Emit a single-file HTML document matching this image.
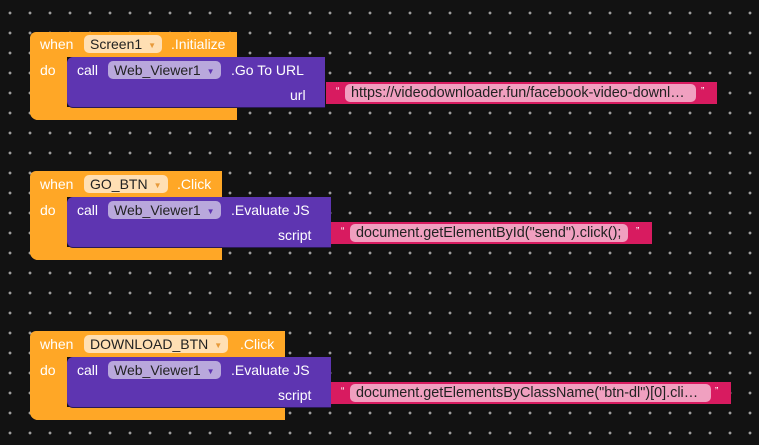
<!DOCTYPE html>
<html><head><style>
body{margin:0;width:759px;height:445px;background:#121212;position:relative;overflow:hidden;font-family:"Liberation Sans",Arial,sans-serif;font-size:14px;color:#fff}
.a{position:absolute;box-sizing:border-box}
.or{background:#ffa726;}
.pu{background:#5e35b1;}
.pk{background:#d81b60;}
.t{position:absolute;white-space:nowrap;line-height:16px}
.fo{position:absolute;background:#ffdfb3;color:#222;border-radius:5px;height:18px;line-height:18px;padding:0 6px;white-space:nowrap}
.fp{position:absolute;background:#b9a8dc;color:#222;border-radius:5px;height:18px;line-height:18px;padding:0 6px;white-space:nowrap}
.fs{position:absolute;background:#f0a0c0;color:#222;border-radius:5px;height:18px;line-height:18px;padding:0 6px;white-space:nowrap;box-sizing:border-box;font-size:14.4px;overflow:hidden}
.ar{font-size:8px;margin-left:6px;vertical-align:1px}
.fo .ar{color:#e79a3a}.fp .ar{color:#5e35b1}
</style></head><body>
<svg class="a" style="left:0;top:0" width="759" height="445"><defs><pattern id="g" x="0" y="3" width="20" height="20" patternUnits="userSpaceOnUse"><path d="M8.5 10h3M10 8.5v3" stroke="#ccc" stroke-width="1"/></pattern></defs><rect width="759" height="445" fill="url(#g)"/></svg>

<!-- Block 1 -->
<div class="a or" style="left:30px;top:32px;width:207px;height:25px;border-radius:6px 0 0 0"></div>
<div class="a or" style="left:30px;top:57px;width:37px;height:63px;border-radius:0 0 0 8px"></div>
<div class="a or" style="left:30px;top:107px;width:207px;height:13px;border-radius:0 0 0 8px"></div>
<div class="a pu" style="left:67px;top:57px;width:258px;height:50px;border-radius:6px 0 0 6px;box-shadow:0 1px 0 #2a1a55"></div>
<div class="a pk" style="left:326px;top:82px;width:391px;height:22px"></div>
<div class="t" style="left:40px;top:36px">when</div>
<div class="fo" style="left:84px;top:35px">Screen1<span class="ar">▼</span></div>
<div class="t" style="left:171px;top:36px">.Initialize</div>
<div class="t" style="left:40px;top:62px">do</div>
<div class="t" style="left:77px;top:62px">call</div>
<div class="fp" style="left:108px;top:61px">Web_Viewer1<span class="ar">▼</span></div>
<div class="t" style="left:231px;top:62px">.Go To URL</div>
<div class="t" style="left:290px;top:87px">url</div>
<div class="t" style="left:336px;top:84px;font-size:10px">“</div>
<div class="fs" style="left:345px;top:84px;width:351px">https://videodownloader.fun/facebook-video-downl…</div>
<div class="t" style="left:701px;top:84px;font-size:10px">”</div>

<!-- Block 2 -->
<div class="a or" style="left:30px;top:171px;width:192px;height:26px;border-radius:6px 0 0 0"></div>
<div class="a or" style="left:30px;top:197px;width:37px;height:63px;border-radius:0 0 0 8px"></div>
<div class="a or" style="left:30px;top:247px;width:192px;height:13px;border-radius:0 0 0 8px"></div>
<div class="a pu" style="left:67px;top:197px;width:264px;height:50px;border-radius:6px 0 0 6px;box-shadow:0 1px 0 #2a1a55"></div>
<div class="a pk" style="left:331px;top:222px;width:321px;height:22px"></div>
<div class="t" style="left:40px;top:176px">when</div>
<div class="fo" style="left:84px;top:175px">GO_BTN<span class="ar">▼</span></div>
<div class="t" style="left:177px;top:176px">.Click</div>
<div class="t" style="left:40px;top:202px">do</div>
<div class="t" style="left:77px;top:202px">call</div>
<div class="fp" style="left:108px;top:201px">Web_Viewer1<span class="ar">▼</span></div>
<div class="t" style="left:231px;top:202px">.Evaluate JS</div>
<div class="t" style="left:278px;top:227px">script</div>
<div class="t" style="left:341px;top:224px;font-size:10px">“</div>
<div class="fs" style="left:350px;top:224px;width:278px">document.getElementById("send").click();</div>
<div class="t" style="left:636px;top:224px;font-size:10px">”</div>

<!-- Block 3 -->
<div class="a or" style="left:30px;top:331px;width:255px;height:26px;border-radius:6px 0 0 0"></div>
<div class="a or" style="left:30px;top:357px;width:37px;height:63px;border-radius:0 0 0 8px"></div>
<div class="a or" style="left:30px;top:407px;width:255px;height:13px;border-radius:0 0 0 8px"></div>
<div class="a pu" style="left:67px;top:357px;width:264px;height:50px;border-radius:6px 0 0 6px;box-shadow:0 1px 0 #2a1a55"></div>
<div class="a pk" style="left:331px;top:382px;width:400px;height:22px"></div>
<div class="t" style="left:40px;top:336px">when</div>
<div class="fo" style="left:84px;top:335px">DOWNLOAD_BTN<span class="ar">▼</span></div>
<div class="t" style="left:240px;top:336px">.Click</div>
<div class="t" style="left:40px;top:362px">do</div>
<div class="t" style="left:77px;top:362px">call</div>
<div class="fp" style="left:108px;top:361px">Web_Viewer1<span class="ar">▼</span></div>
<div class="t" style="left:231px;top:362px">.Evaluate JS</div>
<div class="t" style="left:278px;top:387px">script</div>
<div class="t" style="left:341px;top:384px;font-size:10px">“</div>
<div class="fs" style="left:350px;top:384px;width:361px">document.getElementsByClassName("btn-dl")[0].cli…</div>
<div class="t" style="left:715px;top:384px;font-size:10px">”</div>
</body></html>
